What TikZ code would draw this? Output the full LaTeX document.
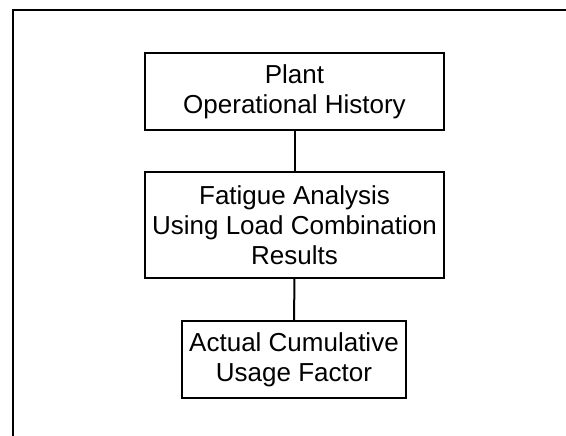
\documentclass[tikz,border=0pt]{standalone}
\usepackage{fontspec}
\setmainfont{Liberation Sans}
\begin{document}
\begin{tikzpicture}[x=1pt,y=-1pt,
  box/.style={draw,line width=1.2pt,align=center,inner sep=0pt,
    font=\fontsize{26}{30}\selectfont},
  conn/.style={line width=2pt}]
\useasboundingbox (0,0) rectangle (566,436);
\coordinate (fa) at (13,436);
\coordinate (fb) at (13,10);
\coordinate (fc) at (566,10);
\draw[line width=1.3pt] (fa) -- (fb) -- (fc);
\node[box,minimum width=299pt,minimum height=77pt] (plant) at (294.5,91.5)
  {Plant\\Operational History};
\node[box,minimum width=299pt,minimum height=106pt] (fat) at (294.5,225)
  {Fatigue Analysis\\Using Load Combination\\Results};
\node[box,minimum width=224pt,minimum height=77pt] (cuf) at (294,359.5)
  {Actual Cumulative\\Usage Factor};
\draw[conn] (plant.south) -- (fat.north);
\draw[conn] (fat.south) -- (cuf.north);
\end{tikzpicture}
\end{document}
